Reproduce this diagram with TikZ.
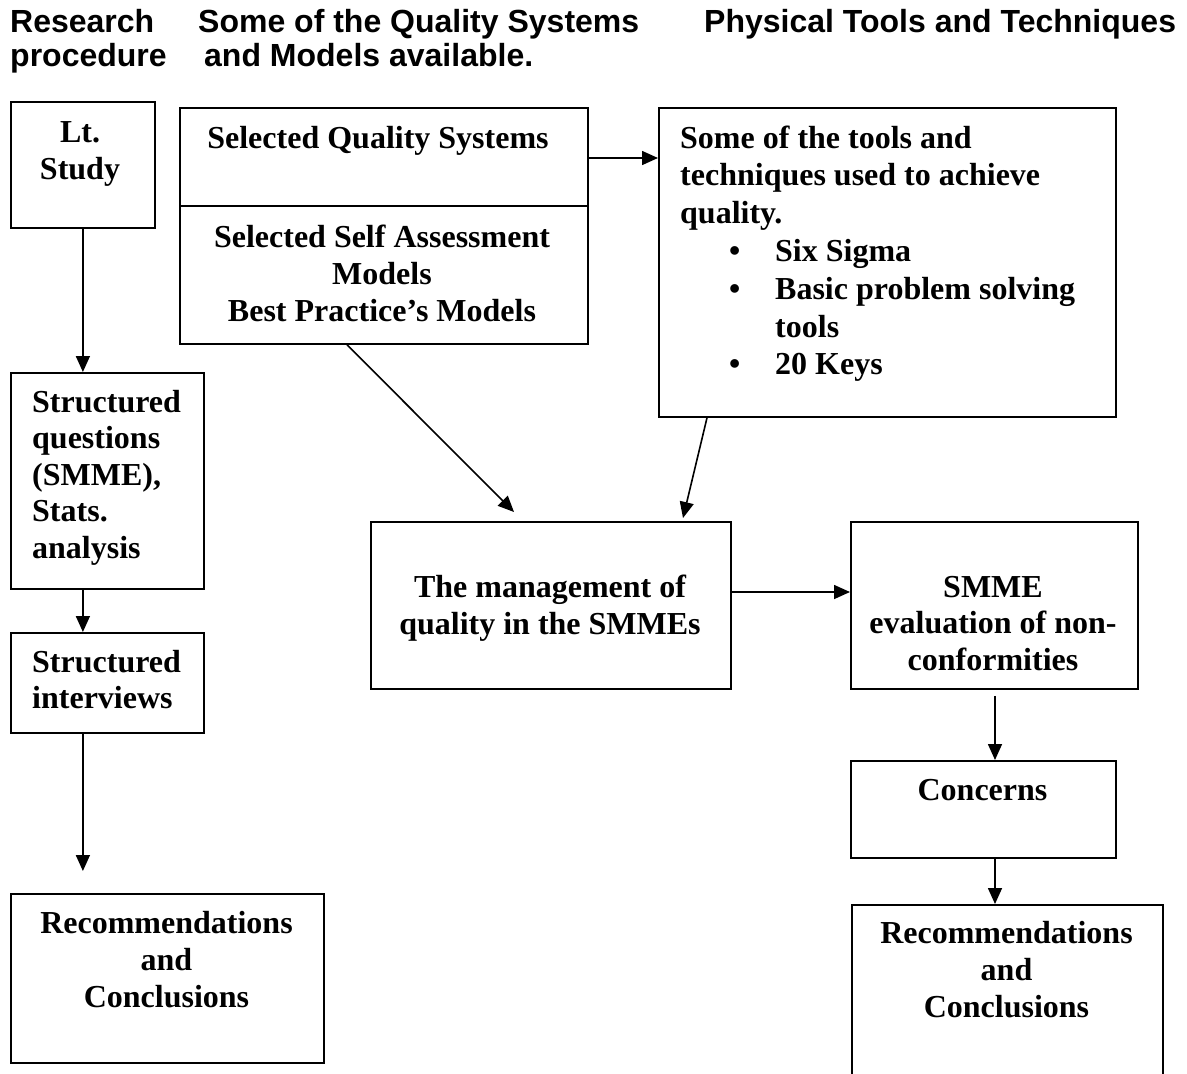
\documentclass[tikz,border=0pt]{standalone}
\usepackage{fontspec}
\setmainfont{Liberation Serif}
\newfontfamily\headfont{Liberation Sans}
\usetikzlibrary{arrows.meta,calc}

\begin{document}
\begin{tikzpicture}[x=1pt,y=-1pt,
  box/.style={draw, line width=1.8pt, rectangle, inner sep=0pt, anchor=north west},
  % multi-line labels: the base anchor sits on the baseline of the LAST line
  lbl/.style={font=\fontsize{32}{37.3}\selectfont\bfseries, inner sep=0pt, anchor=base, align=center},
  lbll/.style={lbl, align=left, anchor=base west},
  head/.style={font=\headfont\fontsize{32}{34}\selectfont\bfseries, inner sep=0pt, anchor=base west},
  arr/.style={line width=1.6pt, -{Triangle[length=16pt,width=14pt]}},
]
\path[use as bounding box] (0,0) rectangle (1187,1074);
\clip (0,0) rectangle (1187,1074);

% column headings
\node[head] (h1a) at (10,32) {Research};
\node[head] (h1b) at (10,66) {procedure};
\node[head] (h2a) at (198,32) {Some of the Quality Systems};
\node[head] (h2b) at (204,66) {and Models available.};
\node[head] (h3a) at (704,32) {Physical Tools and Techniques};

% boxes
\node[box, minimum width=144pt, minimum height=126pt] (lt)    at (10,101) {};
\node[box, minimum width=408pt, minimum height=236pt] (sel)   at (179,107) {};
\node[box, minimum width=457pt, minimum height=309pt] (tools) at (658,107) {};
\node[box, minimum width=193pt, minimum height=216pt] (sq)    at (10,372) {};
\node[box, minimum width=193pt, minimum height=100pt] (si)    at (10,632) {};
\node[box, minimum width=313pt, minimum height=169pt] (recl)  at (10,893) {};
\node[box, minimum width=360pt, minimum height=167pt] (mgmt)  at (370,521) {};
\node[box, minimum width=287pt, minimum height=167pt] (smme)  at (850,521) {};
\node[box, minimum width=265pt, minimum height=97pt]  (conc)  at (850,760) {};
\node[box, minimum width=311pt, minimum height=200pt] (recr)  at (851,904) {};

% divider inside the quality systems box
\coordinate (selmid) at (383,206);
\draw[line width=1.8pt] (sel.west |- selmid) -- (sel.east |- selmid);

% box texts
\node[lbl] (ltT) at (80,179.3) {Lt.\\Study};
\node[lbl] (selA) at (378,148) {Selected Quality Systems};
\node[lbl, font=\fontsize{32}{37}\selectfont\bfseries] (selB) at (382,321)
  {Selected Self Assessment\\Models\\Best Practice’s Models};
\node[lbll, font=\fontsize{32}{37.8}\selectfont\bfseries] (toolsT) at (680,374.8)
  {Some of the tools and\\
   techniques used to achieve\\
   quality.\\
   \makebox[0pt][l]{\hspace*{49pt}•}\hspace*{95pt}Six Sigma\\
   \makebox[0pt][l]{\hspace*{49pt}•}\hspace*{95pt}Basic problem solving\\
   \hspace*{95pt}tools\\
   \makebox[0pt][l]{\hspace*{49pt}•}\hspace*{95pt}20 Keys};
\node[lbll, font=\fontsize{32}{36.6}\selectfont\bfseries] (sqT) at (32,558.4)
  {Structured\\questions\\(SMME),\\Stats.\\analysis};
\node[lbll, font=\fontsize{32}{36.6}\selectfont\bfseries] (siT) at (32,708.6)
  {Structured\\interviews};
\node[lbl] (reclT) at (166.5,1007.6) {Recommendations\\and\\Conclusions};
\node[lbl, font=\fontsize{32}{37}\selectfont\bfseries] (mgmtT) at (550,634)
  {The management of\\quality in the SMMEs};
\node[lbl, font=\fontsize{32}{36.6}\selectfont\bfseries] (smmeT) at (993,670.2)
  {SMME\\evaluation of non-\\conformities};
\node[lbl] (concT) at (982.5,800) {Concerns};
\node[lbl] (recrT) at (1006.5,1017.6) {Recommendations\\and\\Conclusions};

% connectors
\coordinate (rowA) at (620,158);
\draw[arr] (lt.south) -- (lt.south |- sq.north);
\draw[arr] (sq.south -| lt.south) -- (si.north -| lt.south);
\draw[arr, shorten >=22pt] (si.south -| lt.south) -- (recl.north -| lt.south);
\draw[arr] (sel.east |- rowA) -- (tools.west |- rowA);
\draw[arr] ($(sel.south west)+(168,0)$) -- ($(mgmt.north west)+(144,-9)$);
\draw[arr] ($(tools.south west)+(49,0)$) -- ($(mgmt.north west)+(313,-3)$);
\draw[arr] ($(mgmt.north east)+(0,71)$) -- ($(smme.north west)+(0,71)$);
\coordinate (colR) at (995,700);
\draw[arr] ($(smme.south -| colR)+(0,6)$) -- (conc.north -| colR);
\draw[arr] (conc.south -| colR) -- (recr.north -| colR);
\end{tikzpicture}
\end{document}
